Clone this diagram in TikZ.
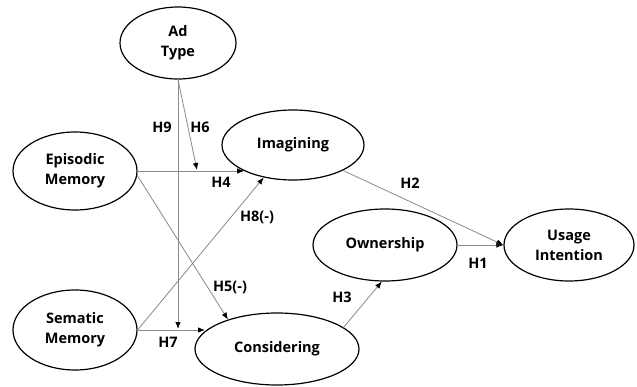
\documentclass[tikz,border=0pt]{standalone}
\usepackage{fontspec}
\setmainfont{Open Sans}
\usepackage{tikz}
\usetikzlibrary{shapes.geometric,arrows.meta,positioning}
\definecolor{edge}{HTML}{8A8A8A}
\tikzset{
  Construct/.style={
    ellipse, draw=black, line width=1.2pt,
    inner sep=0pt, align=center,
    font=\fontsize{14.5}{20}\selectfont\bfseries
  },
  Path/.style={
    draw=edge, line width=0.8pt,
    -{Latex[length=7pt,width=5.5pt,color=black]}
  },
  Hyp/.style={font=\fontsize{14.5}{16}\selectfont\bfseries, inner sep=0pt}
}

\begin{document}
\begin{tikzpicture}[x=1pt, y=1pt, line cap=round, line join=round]
  \useasboundingbox (0,0) rectangle (637,386);

  % constructs
  \node[Construct, minimum width=116pt, minimum height=72pt] (ad)  at (178,343) {Ad\\Type};
  \node[Construct, minimum width=124pt, minimum height=78pt] (epi) at (75,215)  {Episodic\\Memory};
  \node[Construct, minimum width=142pt, minimum height=70pt] (img) at (293,241) {Imagining};
  \node[Construct, minimum width=124pt, minimum height=80pt] (sem) at (75,56)   {Sematic\\Memory};
  \node[Construct, minimum width=164pt, minimum height=72pt] (con) at (277,37)  {Considering};
  \node[Construct, minimum width=144pt, minimum height=72pt] (own) at (385,141) {Ownership};
  \node[Construct, minimum width=130pt, minimum height=72pt] (use) at (569,141) {Usage\\Intention};

  % moderating arrows end on the paths they act on
  \coordinate (t6) at (197,216);
  \coordinate (t9) at (178,57);

  \draw[Path] (ad.south) -- (t9);
  \draw[Path] (ad.south) -- (t6);
  \draw[Path] (epi.east) -- (img.208 |- epi.east);
  \draw[Path] (epi.-4) -- (con.149);
  \draw[Path] (sem.east) -- (img.228);
  \draw[Path] (sem.east) -- (con.166 |- sem.east);
  \draw[Path] (con.18) -- (own.265);
  \draw[Path] (img.-27) -- (use.west);
  \draw[Path] (own.east) -- (use.west);

  % hypothesis labels
  \node[Hyp] (h9) at (162,259) {H9};
  \node[Hyp] (h6) at (200,259) {H6};
  \node[Hyp] (h4) at (221,204) {H4};
  \node[Hyp] (h5) at (230,99)  {H5(-)};
  \node[Hyp] (h8) at (257,169) {H8(-)};
  \node[Hyp] (h7) at (168,44)  {H7};
  \node[Hyp] (h3) at (342,89)  {H3};
  \node[Hyp] (h2) at (410,203) {H2};
  \node[Hyp] (h1) at (478,123) {H1};
\end{tikzpicture}
\end{document}
